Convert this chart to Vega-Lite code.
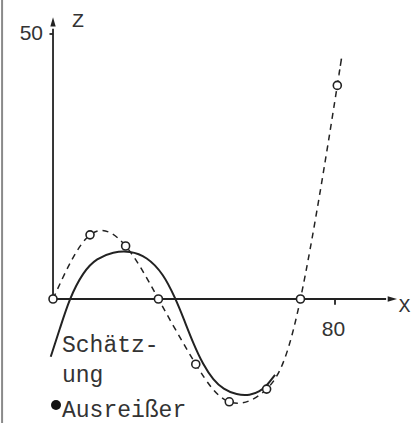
{
  "$schema": "https://vega.github.io/schema/vega-lite/v6.json",
  "width": 419,
  "height": 423,
  "autosize": "none",
  "padding": 0,
  "background": "white",
  "config": {"view": {"stroke": null}},
  "datasets": {
    "circles": [
      {"x": 0, "z": 0}, {"x": 10.5, "z": 12.1}, {"x": 20.6, "z": 10.0},
      {"x": 29.9, "z": 0}, {"x": 40.5, "z": -12.3}, {"x": 50.0, "z": -19.4},
      {"x": 60.6, "z": -17.0}, {"x": 70.2, "z": 0}, {"x": 80.65, "z": 40.3}
    ],
    "dashed": [
      {"x": 0, "z": 0}, {"x": 10.5, "z": 12.1}, {"x": 20.6, "z": 10.0},
      {"x": 29.9, "z": 0}, {"x": 40.5, "z": -12.3}, {"x": 50.0, "z": -19.4},
      {"x": 60.6, "z": -17.0}, {"x": 70.2, "z": 0}, {"x": 80.65, "z": 40.3},
      {"x": 81.1, "z": 42.3}
    ],
    "solid": [
      {"x": -0.65, "z": -10.9}, {"x": 2.0, "z": -5.5}, {"x": 4.6, "z": 0},
      {"x": 8.6, "z": 5.2}, {"x": 12.4, "z": 7.7}, {"x": 17.1, "z": 8.9},
      {"x": 21.8, "z": 9.1}, {"x": 26.6, "z": 8.0}, {"x": 31.3, "z": 4.8},
      {"x": 34.8, "z": 0}, {"x": 37.0, "z": -3.6}, {"x": 39.8, "z": -8.4},
      {"x": 42.6, "z": -12.4}, {"x": 45.5, "z": -15.3}, {"x": 48.3, "z": -17.0},
      {"x": 52.1, "z": -18.1}, {"x": 55.9, "z": -18.2}, {"x": 58.7, "z": -17.4},
      {"x": 60.6, "z": -16.4}, {"x": 63.0, "z": -14.3}
    ],
    "axes": [
      {"x": 0, "z": 0, "x2": 94.5, "z2": 0},
      {"x": 0, "z": 0, "x2": 0, "z2": 51},
      {"x": -1.0, "z": 50, "x2": 0, "z2": 50},
      {"x": 80, "z": 0, "x2": 80, "z2": -1.1}
    ],
    "border": [{"x": -14.45, "z": 56.42, "z2": -23.4}],
    "arrowUp": [{"x": 0, "z": 51.9}],
    "arrowRight": [{"x": 95.7, "z": 0}],
    "outlier": [{"x": 0.85, "z": -20.0}],
    "textMono": [
      {"t": "Schätz-", "x": 2.55, "z": -9.94},
      {"t": "ung", "x": 2.55, "z": -15.6}
    ],
    "textBottom": [
      {"t": "Ausreißer", "x": 2.55, "z": -23.3}
    ],
    "textAxis": [
      {"t": "Z", "x": 7.1, "z": 52.5},
      {"t": "X", "x": 99.7, "z": -1.3}
    ],
    "num50": [{"t": "50", "x": -2.84, "z": 50}],
    "num80": [{"t": "80", "x": 79.55, "z": -5.94}]
  },
  "encoding": {
    "x": {"field": "x", "type": "quantitative", "scale": {"domain": [-15.04, 103.83], "nice": false, "zero": false}, "axis": null},
    "y": {"field": "z", "type": "quantitative", "scale": {"domain": [-23.396, 56.415], "nice": false, "zero": false}, "axis": null}
  },
  "layer": [
    {
      "data": {"name": "border"},
      "mark": {"type": "rule", "color": "#8a8a8a", "strokeWidth": 2},
      "encoding": {"y2": {"field": "z2"}}
    },
    {
      "data": {"name": "axes"},
      "mark": {"type": "rule", "color": "#222", "strokeWidth": 1.8},
      "encoding": {"x2": {"field": "x2"}, "y2": {"field": "z2"}}
    },
    {
      "data": {"name": "arrowUp"},
      "mark": {"type": "point", "shape": "M0,-1L0.4,0.4L-0.4,0.4Z", "size": 180, "filled": true, "color": "#222", "opacity": 1}
    },
    {
      "data": {"name": "arrowRight"},
      "mark": {"type": "point", "shape": "M1,0L-0.4,0.4L-0.4,-0.4Z", "size": 180, "filled": true, "color": "#222", "opacity": 1}
    },
    {
      "data": {"name": "solid"},
      "mark": {"type": "line", "color": "#222", "strokeWidth": 2, "interpolate": "basis"}
    },
    {
      "data": {"name": "dashed"},
      "mark": {"type": "line", "color": "#222", "strokeWidth": 1.5, "strokeDash": [6, 5], "interpolate": "natural"}
    },
    {
      "data": {"name": "circles"},
      "mark": {"type": "point", "shape": "circle", "size": 64, "filled": true, "fill": "white", "stroke": "#222", "strokeWidth": 1.6, "opacity": 1}
    },
    {
      "data": {"name": "outlier"},
      "mark": {"type": "point", "shape": "circle", "size": 100, "filled": true, "color": "#111", "opacity": 1}
    },
    {
      "data": {"name": "textMono"},
      "mark": {"type": "text", "font": "Liberation Mono", "fontSize": 23, "align": "left", "baseline": "alphabetic", "color": "#333"},
      "encoding": {"text": {"field": "t"}}
    },
    {
      "data": {"name": "textBottom"},
      "mark": {"type": "text", "font": "Liberation Mono", "fontSize": 23, "align": "left", "baseline": "bottom", "color": "#333"},
      "encoding": {"text": {"field": "t"}}
    },
    {
      "data": {"name": "textAxis"},
      "mark": {"type": "text", "font": "Liberation Mono", "fontSize": 20, "align": "center", "baseline": "middle", "color": "#333"},
      "encoding": {"text": {"field": "t"}}
    },
    {
      "data": {"name": "num50"},
      "mark": {"type": "text", "font": "Liberation Sans", "fontSize": 21, "align": "right", "baseline": "middle", "color": "#333"},
      "encoding": {"text": {"field": "t"}}
    },
    {
      "data": {"name": "num80"},
      "mark": {"type": "text", "font": "Liberation Sans", "fontSize": 21, "align": "center", "baseline": "middle", "color": "#333"},
      "encoding": {"text": {"field": "t"}}
    }
  ]
}
